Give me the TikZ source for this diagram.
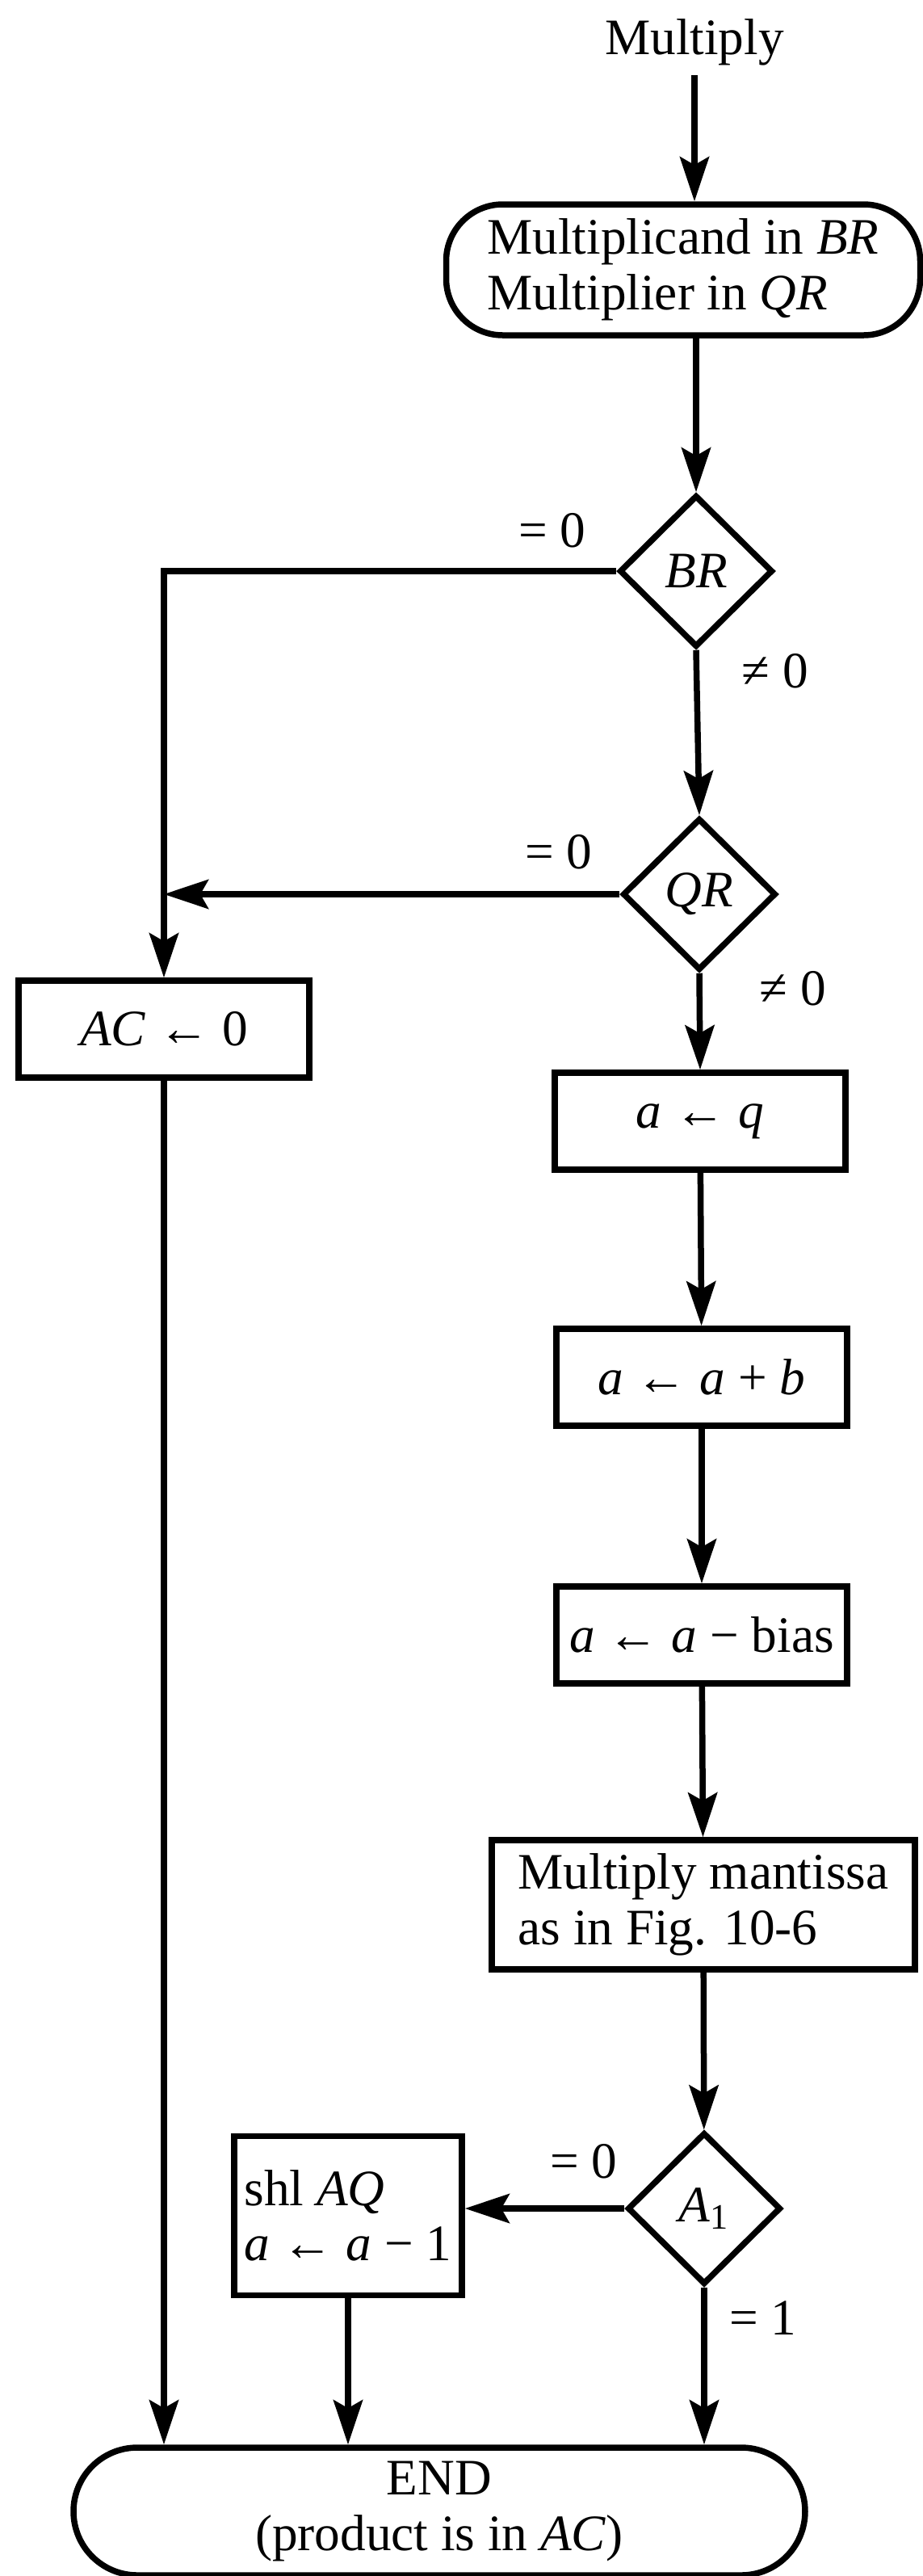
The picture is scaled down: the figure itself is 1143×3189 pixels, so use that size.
\documentclass[tikz,border=0pt]{standalone}
\usepackage{fontspec}
\setmainfont{Liberation Serif}
\usetikzlibrary{shapes.geometric, arrows.meta}

\begin{document}
\begin{tikzpicture}[x=0.1mm, y=-0.1mm,
    font=\fontsize{18pt}{19.5pt}\selectfont,
    linea/.style={line width=0.75mm},
    freccia/.style={linea, -{Stealth[length=5.5mm, width=3.6mm, inset=1mm]}},
    blocco/.style={draw, linea, rectangle, inner sep=0pt, minimum height=12mm},
    decisione/.style={draw, linea, diamond, aspect=1, inner sep=0pt, minimum width=19mm, minimum height=18.8mm},
    terminale/.style={draw, linea, rectangle, rounded corners=7mm, inner sep=0pt, align=left},
    etichetta/.style={inner sep=0pt}]
    \useasboundingbox (0,0) rectangle (1143,3189);

    % Blocchi
    \node[anchor=base] (inizio) at (860,67) {Multiply};
    \node[terminale, minimum width=58.7mm, minimum height=16.2mm] (dati) at (846,334) {Multiplicand in \textit{BR}\\Multiplier in \textit{QR}};
    \node[decisione] (br) at (862,707) {\textit{BR}};
    \node[decisione] (qr) at (866,1107) {\textit{QR}};
    \node[blocco, minimum width=36mm] (azzera) at (203,1274) {\textit{AC} ← 0};
    \node[blocco, minimum width=36mm] (aq) at (867,1388) {\textit{a} ← \textit{q}};
    \node[blocco, minimum width=36mm] (somma) at (869,1705) {\textit{a} ← \textit{a} + \textit{b}};
    \node[blocco, minimum width=36mm] (bias) at (869,2024) {\textit{a} ← \textit{a} − bias};
    \node[blocco, minimum width=52.4mm, minimum height=16mm, align=left] (mantissa) at (871,2358) {Multiply mantissa\\as in Fig. 10-6};
    \node[decisione] (a1) at (872,2734) {\textit{A}\textsubscript{1}};
    \node[blocco, minimum width=28.2mm, minimum height=19.7mm, align=left] (shl) at (431,2743) {shl \textit{AQ}\\\textit{a} ← \textit{a} − 1};
    \node[terminale, rounded corners=7.9mm, minimum width=90.6mm, minimum height=15.8mm, align=center] (fine) at (544,3109) {END\\(product is in \textit{AC})};

    % Etichette
    \node[etichetta] (br0) at (684,657) {= 0};
    \node[etichetta] (br1) at (960,831) {≠ 0};
    \node[etichetta] (qr0) at (692,1055) {= 0};
    \node[etichetta] (qr1) at (982,1224) {≠ 0};
    \node[etichetta] (a10) at (723,2676) {= 0};
    \node[etichetta] (a11) at (945,2870) {= 1};

    % Frecce
    \draw[freccia] (inizio.south) -- (inizio.south |- dati.north);
    \draw[freccia] (br.north |- dati.south) -- (br.north);
    \draw[freccia] (br.south) -- (qr.north);
    \draw[freccia] (br.west) -| (azzera.north);
    \draw[freccia] (qr.west) -- (qr.west -| azzera.north);
    \draw[freccia] (qr.south) -- (aq.north);
    \draw[freccia] (aq) -- (somma);
    \draw[freccia] (somma) -- (bias);
    \draw[freccia] (bias) -- (mantissa);
    \draw[freccia] (mantissa) -- (a1);
    \draw[freccia] (a1.west) -- (a1.west -| shl.east);
    \draw[freccia] (a1.south) -- (a1.south |- fine.north);
    \draw[freccia] (shl.south) -- (shl.south |- fine.north);
    \draw[freccia] (azzera.south) -- (azzera.south |- fine.north);
\end{tikzpicture}
\end{document}
